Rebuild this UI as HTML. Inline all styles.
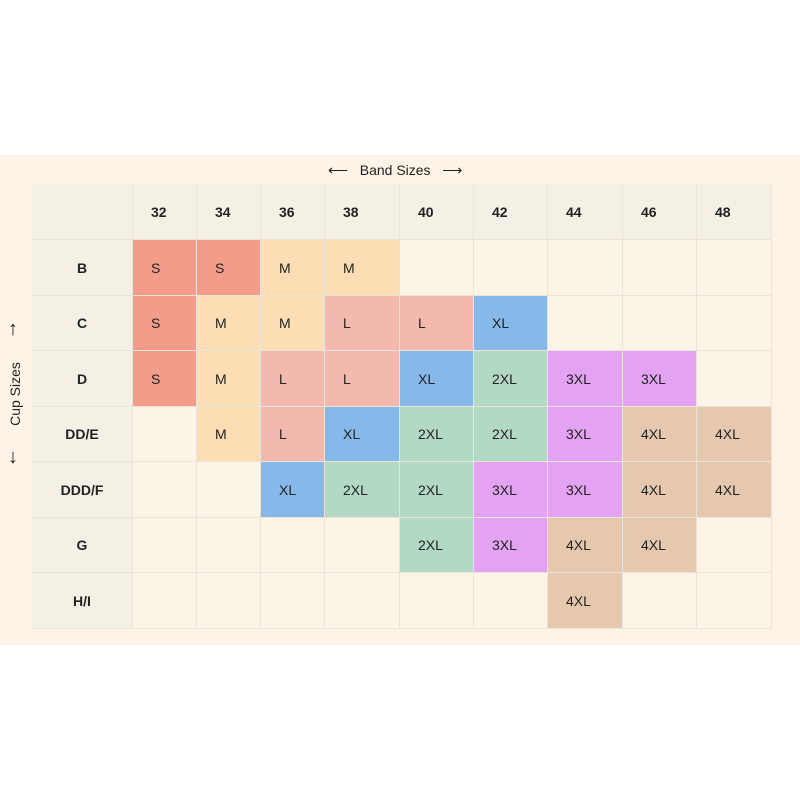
<!DOCTYPE html><html><head><style>
body{margin:0;width:800px;height:800px;background:#fff;position:relative;font-family:"Liberation Sans",sans-serif;overflow:hidden}
.band{position:absolute;left:0;top:155px;width:800px;height:490px;background:#fdf3e6}
.c{position:absolute;box-sizing:border-box;border-right:1px solid #ece4d8;border-bottom:1px solid #ece4d8;display:flex;align-items:center;font-size:14px;color:#222;padding-left:18px}
.h{background:#f5f0e6;font-weight:bold;font-size:14px}
.r{justify-content:center;padding-left:0}
.t{position:absolute;font-size:14px;color:#222}
</style></head><body>
<div class="band"></div>
<div class="t" style="left:328px;top:162px">⟵&nbsp;&nbsp;&nbsp;Band Sizes&nbsp;&nbsp;&nbsp;⟶</div>
<div class="t" style="left:-30px;top:386px;transform:rotate(-90deg);width:90px;text-align:center">Cup Sizes</div>
<div class="t" style="left:8px;top:318px;font-size:20px">↑</div>
<div class="t" style="left:8px;top:446px;font-size:20px">↓</div>
<div id="g" style="position:absolute;left:0;top:0;border-radius:4px"></div>
<script>
var xs=[32,133,197,261,325,400,474,548,623,697,772];
var ys=[184,240,296,351,407,462,518,573,629];
var hdr=["","32","34","36","38","40","42","44","46","48"];
var rows=["B","C","D","DD/E","DDD/F","G","H/I"];
var data=[
"S S M M . . . . .",
"S M M L L XL . . .",
"S M L L XL 2XL 3XL 3XL .",
". M L XL 2XL 2XL 3XL 4XL 4XL",
". . XL 2XL 2XL 3XL 3XL 4XL 4XL",
". . . . 2XL 3XL 4XL 4XL .",
". . . . . . 4XL . ."];
var col={S:"#f49c8a",M:"#fddeb4",L:"#f4b9ae",XL:"#86b8ea","2XL":"#b2d9c4","3XL":"#e3a2f2","4XL":"#e5c8ad",".":"#fdf4e8"};
var h="";
function cell(c,r,txt,bg,cls){h+='<div class="c '+cls+'" style="left:'+xs[c]+'px;top:'+ys[r]+'px;width:'+(xs[c+1]-xs[c])+'px;height:'+(ys[r+1]-ys[r])+'px;background:'+bg+'">'+txt+'</div>';}
for(var c=0;c<10;c++)cell(c,0,hdr[c],"#f5f0e6","h");
for(var r=0;r<7;r++){cell(0,r+1,rows[r],"#f5f0e6","h r");var d=data[r].split(" ");for(var c=0;c<9;c++)cell(c+1,r+1,d[c]=="."?"":d[c],col[d[c]],"");}
document.getElementById("g").innerHTML=h;
</script>
</body></html>
